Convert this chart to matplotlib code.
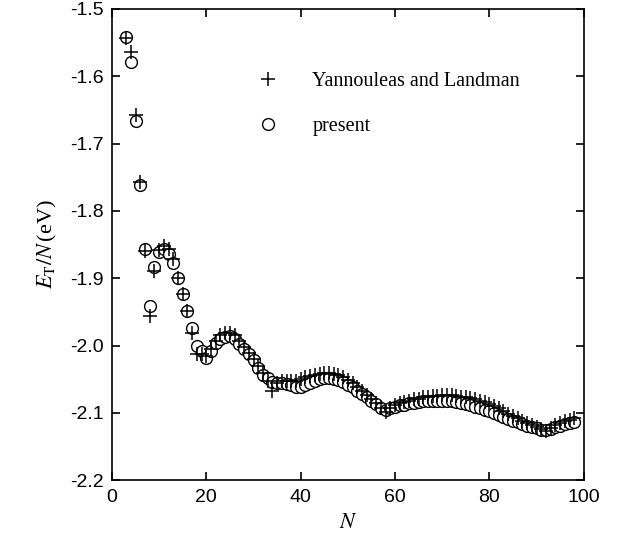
import matplotlib.pyplot as plt
from matplotlib.lines import Line2D

plt.rcParams['mathtext.fontset'] = 'stix'

# cluster size N = 3 ... 98
N = list(range(3, 99))

# present calculation (circles)
present = [-1.542, -1.579, -1.666, -1.761, -1.856, -1.941, -1.884, -1.861, -1.857, -1.864,
           -1.878, -1.899, -1.923, -1.949, -1.974, -2.000, -2.008, -2.018, -2.008, -1.996,
           -1.990, -1.987, -1.986, -1.990, -1.997, -2.005, -2.013, -2.022, -2.033, -2.043,
           -2.048, -2.054, -2.055, -2.056, -2.057, -2.059, -2.061, -2.061, -2.058, -2.055,
           -2.052, -2.049, -2.048, -2.048, -2.049, -2.051, -2.054, -2.058, -2.062, -2.067,
           -2.072, -2.077, -2.082, -2.087, -2.092, -2.096, -2.093, -2.091, -2.089, -2.088,
           -2.086, -2.085, -2.084, -2.083, -2.083, -2.082, -2.082, -2.082, -2.082, -2.083,
           -2.084, -2.085, -2.087, -2.089, -2.091, -2.093, -2.095, -2.097, -2.100, -2.103,
           -2.106, -2.109, -2.112, -2.114, -2.117, -2.119, -2.121, -2.123, -2.125, -2.126,
           -2.124, -2.121, -2.119, -2.117, -2.115, -2.113]

# Yannouleas and Landman (crosses)
yl = [-1.543, -1.564, -1.657, -1.757, -1.860, -1.956, -1.890, -1.858, -1.852, -1.857,
      -1.871, -1.899, -1.923, -1.949, -1.982, -2.012, -2.013, -2.015, -2.005, -1.993,
      -1.985, -1.981, -1.981, -1.984, -1.993, -2.002, -2.011, -2.020, -2.031, -2.041,
      -2.052, -2.068, -2.056, -2.053, -2.053, -2.053, -2.052, -2.050, -2.047, -2.045,
      -2.043, -2.042, -2.041, -2.041, -2.042, -2.044, -2.047, -2.051, -2.056, -2.062,
      -2.068, -2.074, -2.080, -2.086, -2.092, -2.098, -2.092, -2.089, -2.086, -2.084,
      -2.082, -2.080, -2.079, -2.077, -2.076, -2.075, -2.075, -2.074, -2.074, -2.074,
      -2.075, -2.076, -2.077, -2.078, -2.080, -2.082, -2.084, -2.087, -2.090, -2.093,
      -2.097, -2.101, -2.105, -2.108, -2.112, -2.115, -2.118, -2.121, -2.124, -2.127,
      -2.122, -2.118, -2.115, -2.112, -2.110, -2.107]

xticks = [0, 20, 40, 60, 80, 100]
yticks = [-2.2, -2.1, -2.0, -1.9, -1.8, -1.7, -1.6, -1.5]

fig = plt.figure(figsize=(6.31, 5.52), dpi=100)
ax = fig.add_axes([0.1775, 0.130, 0.7475, 0.854])

ax.plot(N, present, linestyle='none', marker='o', markersize=8.5,
        markerfacecolor='white', markeredgecolor='black', markeredgewidth=1.0)
ax.plot(N, yl, linestyle='none', marker='+', markersize=10,
        color='black', markeredgewidth=1.1)

ax.set_xlim(0, 100)
ax.set_ylim(-2.2, -1.5)
ax.set_xticks(xticks)
ax.set_yticks(yticks)
ax.set_xticklabels([str(t) for t in xticks])
ax.set_yticklabels(['%.1f' % t for t in yticks])
ax.tick_params(direction='in', top=True, right=True, length=6, width=1.2,
               labelsize=14, pad=6)
for lab in ax.get_xticklabels() + ax.get_yticklabels():
    lab.set_family('Liberation Sans')
for s in ax.spines.values():
    s.set_linewidth(1.2)

ax.set_xlabel('$N$', fontsize=16, family='Liberation Serif', labelpad=6)
ax.set_ylabel(r'$E_{\rm T}/N\,$(eV)', fontsize=16, family='Liberation Serif', labelpad=8)

handles = [Line2D([], [], linestyle='none', marker='+', markersize=10, color='black',
                  markeredgewidth=1.1),
           Line2D([], [], linestyle='none', marker='o', markersize=8.5,
                  markerfacecolor='white', markeredgecolor='black')]
ax.legend(handles, ['Yannouleas and Landman', 'present'], loc='upper left',
          bbox_to_anchor=(0.25, 0.905), frameon=False, handletextpad=1.2,
          labelspacing=1.3, prop={'family': 'Liberation Serif', 'size': 14.5})

fig.savefig('out.png', dpi=100)
